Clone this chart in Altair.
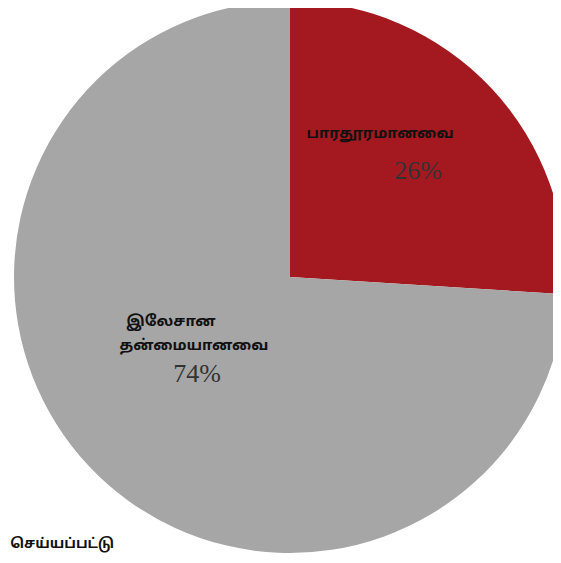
import altair as alt
import pandas as pd

categories = ["பாரதூரமானவை", "இலேசான தன்மையானவை"]
values = [26, 74]
colors = ["#A3191F", "#A6A6A6"]

pie_df = pd.DataFrame({"category": categories, "value": values, "order": [0, 1]})

W, H = 545, 547
CX, CY, R = 282, 269, 276

pie = alt.Chart(pie_df).mark_arc(radius=R).encode(
    theta=alt.Theta("value:Q", stack=True),
    color=alt.Color("category:N", scale=alt.Scale(domain=categories, range=colors), legend=None),
    order=alt.Order("order:Q"),
    x=alt.value(CX),
    y=alt.value(CY),
)

TAMIL_FONT = "Noto Sans Tamil, Lohit Tamil, Noto Sans, sans-serif"

name_lines = ["பாரதூரமானவை", "இலேசான", "தன்மையானவை"]
name_pos = [(372, 125), (163, 313), (186, 337)]
name_layers = [
    alt.Chart(pd.DataFrame({"t": [t]})).mark_text(
        font=TAMIL_FONT, fontSize=15, fontWeight="bold",
        color="#111111", align="center", baseline="middle"
    ).encode(text="t:N", x=alt.value(p[0]), y=alt.value(p[1]))
    for t, p in zip(name_lines, name_pos)
]

pct_labels = [f"{v}%" for v in values]
pct_pos = [(410, 163), (189, 366)]
pct_layers = [
    alt.Chart(pd.DataFrame({"t": [lab]})).mark_text(
        font="Liberation Serif, DejaVu Serif, serif", fontSize=26,
        color="#333333", align="center", baseline="middle"
    ).encode(text="t:N", x=alt.value(p[0]), y=alt.value(p[1]))
    for lab, p in zip(pct_labels, pct_pos)
]

note = alt.Chart(pd.DataFrame({"t": ["செய்யப்பட்டு"]})).mark_text(
    font=TAMIL_FONT, fontSize=14, fontWeight="bold",
    color="#111111", align="right", baseline="middle"
).encode(text="t:N", x=alt.value(106), y=alt.value(536))

chart = alt.layer(pie, *name_layers, *pct_layers, note).properties(
    width=W, height=H, padding=0, autosize=alt.AutoSizeParams(type="none")
).configure_view(stroke=None)

chart.save("out.html", embed_options={"renderer": "svg", "actions": False})
